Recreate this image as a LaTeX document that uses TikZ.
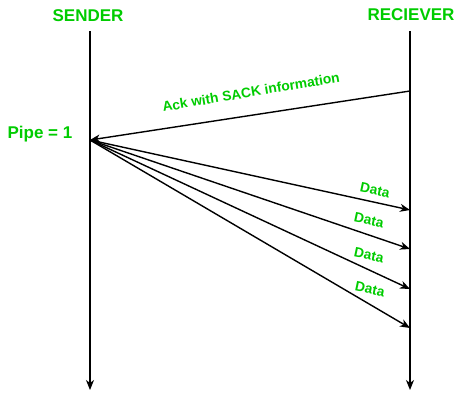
\documentclass[tikz,border=0pt]{standalone}
\usepackage{fontspec}
\setmainfont{Liberation Sans}
\usetikzlibrary{arrows.meta,positioning}
\definecolor{ink}{HTML}{000000}
\definecolor{sackgreen}{HTML}{00CC00}

\begin{document}
\begin{tikzpicture}[x=1pt,y=-1pt,>={Stealth[length=10pt,width=8pt,inset=3pt]}]
 \tikzstyle{headlbl}=[font=\fontsize{17}{20}\selectfont\bfseries,text=sackgreen,inner sep=0pt]
 \tikzstyle{msglbl}=[font=\fontsize{13.8}{16}\selectfont\bfseries,text=sackgreen,inner sep=0pt]
 \tikzstyle{lifeline}=[->,ink,line width=1.4pt]
 \tikzstyle{msg}=[->,ink,line width=1.4pt]
 \fill[white] (0,0) rectangle (461,400);
 \node[headlbl] (sender) at (88,16) {SENDER};
 \node[headlbl] (receiver) at (411,15) {RECIEVER};
 \coordinate (stop) at (90,31);
 \coordinate (sbot) at (90,390);
 \coordinate (rtop) at (410,31);
 \coordinate (rbot) at (410,390);
 \coordinate (ack) at (410,91);
 \coordinate (pipe) at (90,140);
 \coordinate (d1) at (410,210);
 \coordinate (d2) at (410,249);
 \coordinate (d3) at (410,289);
 \coordinate (d4) at (410,328);
 \node[headlbl] (pipelbl) at (40,134) {Pipe = 1};
 \draw[lifeline] (stop) -- (sbot);
 \draw[lifeline] (rtop) -- (rbot);
 \draw[msg] (ack) -- (pipe);
 \node[msglbl,rotate=9.5] (acklbl) at (251,92) {Ack with SACK information};
 \draw[msg] (pipe) -- (d1);
 \draw[msg] (pipe) -- (d2);
 \draw[msg] (pipe) -- (d3);
 \draw[msg] (pipe) -- (d4);
 \node[msglbl,rotate=-12] (data1) at (375,190) {Data};
 \node[msglbl,rotate=-12] (data2) at (369,220) {Data};
 \node[msglbl,rotate=-12] (data3) at (369,255) {Data};
 \node[msglbl,rotate=-12] (data4) at (370,289) {Data};
\end{tikzpicture}
\end{document}
